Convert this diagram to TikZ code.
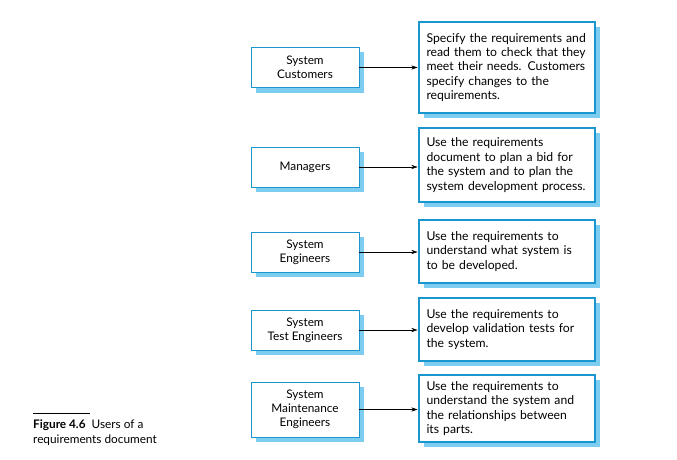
\documentclass[tikz,border=0pt]{standalone}
\usepackage{fontspec}
\setmainfont{Lato}
\usetikzlibrary{shadows}
\usetikzlibrary{arrows.meta}
\usepackage{xcolor}
\definecolor{boxblue}{RGB}{25,150,205}
\definecolor{shadeblue}{RGB}{125,205,240}

\begin{document}
\begin{tikzpicture}[x=1pt, y=-1pt]
        % ================= styles =================
        \tikzset{
            % user box (left)
            userbox/.style={draw=boxblue, line width=0.9pt, fill=white, minimum width=108pt,
                inner sep=3pt, align=center, font=\fontsize{11.8}{14}\selectfont,
                drop shadow={fill=shadeblue, opacity=1, shadow xshift=5pt, shadow yshift=-5pt}},
            % use box (right)
            usebox/.style={draw=boxblue, line width=2pt, fill=white, text width=160pt,
                inner xsep=8pt, inner ysep=5pt, align=left, font=\fontsize{12.2}{14.4}\selectfont,
                drop shadow={fill=shadeblue, opacity=1, shadow xshift=5pt, shadow yshift=-5pt}},
            % connector
            link/.style={thin, black, -{Stealth[length=6pt, width=4pt]}}
        }

        \useasboundingbox (0,0) rectangle (677,460);

        % ================= 1. row centres =================
        \coordinate (u1) at (305, 67.5);
        \coordinate (u2) at (305, 167);
        \coordinate (u3) at (305, 252);
        \coordinate (u4) at (305, 330);
        \coordinate (u5) at (305, 409.5);

        \coordinate (r1) at (506.5, 67.5);
        \coordinate (r2) at (506.5, 165);
        \coordinate (r3) at (506.5, 251.5);
        \coordinate (r4) at (506.5, 329.5);
        \coordinate (r5) at (506.5, 408.5);

        % ================= 2. users (left) =================
        \node[userbox, minimum height=40pt] (customers) at (u1) {System\\Customers};
        \node[userbox, minimum height=40pt] (managers) at (u2) {Managers};
        \node[userbox, minimum height=40pt] (sysengineers) at (u3) {System\\Engineers};
        \node[userbox, minimum height=40pt] (testengineers) at (u4) {System\\Test Engineers};
        \node[userbox, minimum height=55pt] (mainengineers) at (u5) {System\\Maintenance\\Engineers};

        % ================= 3. uses (right) =================
        \node[usebox, minimum height=91pt] (specify) at (r1)
            {Specify the requirements and\\read them to check that they\\meet their needs. Customers\\specify changes to the\\requirements.};
        \node[usebox, minimum height=74pt] (planbid) at (r2)
            {Use the requirements\\document to plan a bid for\\the system and to plan the\\system development process.};
        \node[usebox, minimum height=63pt] (understand) at (r3)
            {Use the requirements to\\understand what system is\\to be developed.};
        \node[usebox, minimum height=63pt] (validate) at (r4)
            {Use the requirements to\\develop validation tests for\\the system.};
        \node[usebox, minimum height=67pt] (relations) at (r5)
            {Use the requirements to\\understand the system and\\the relationships between\\its parts.};

        % ================= 4. connectors =================
        \draw[link] (customers) -- (specify.west |- customers);
        \draw[link] (managers) -- (planbid.west |- managers);
        \draw[link] (sysengineers) -- (understand.west |- sysengineers);
        \draw[link] (testengineers) -- (validate.west |- testengineers);
        \draw[link] (mainengineers) -- (relations.west |- mainengineers);

        % ================= 5. caption =================
        \coordinate (rulel) at (33, 413);
        \coordinate (ruler) at (90, 413);
        \draw[line width=0.8pt] (rulel) -- (ruler);
        \node[anchor=north west, inner sep=0pt, align=left, font=\fontsize{11.8}{14.5}\selectfont] (caption) at (33, 420)
            {\textbf{Figure 4.6}\ \ Users of a\\requirements document};

    \end{tikzpicture}
\end{document}
